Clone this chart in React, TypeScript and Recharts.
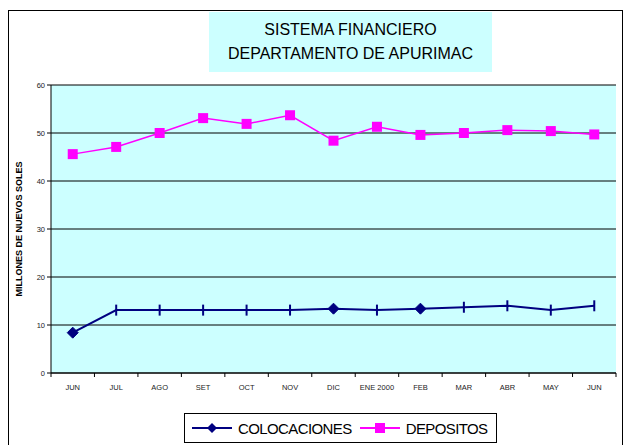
import { LineChart, Line, XAxis, YAxis, CartesianGrid } from 'recharts';

const months = ['JUN', 'JUL', 'AGO', 'SET', 'OCT', 'NOV', 'DIC', 'ENE 2000', 'FEB', 'MAR', 'ABR', 'MAY', 'JUN'];
const colocaciones = [8.4, 13.1, 13.1, 13.1, 13.1, 13.1, 13.4, 13.1, 13.4, 13.7, 14.0, 13.1, 14.0];
const depositos = [45.6, 47.1, 50.0, 53.1, 51.9, 53.7, 48.4, 51.3, 49.6, 50.0, 50.6, 50.4, 49.7];
// marker used at each COLOCACIONES point in the original
const colocMarkers = ['diamond', 'dash', 'dash', 'dash', 'dash', 'dash', 'diamond', 'dash', 'diamond', 'dash', 'dash', 'dash', 'dash'];
const yTicks = [0, 10, 20, 30, 40, 50, 60];

const data = months.map((m, i) => ({
  key: `${m}-${i}`,
  month: m,
  colocaciones: colocaciones[i],
  depositos: depositos[i],
}));

const FONT = '"Liberation Sans", Arial, sans-serif';
const NAVY = '#000080';
const PINK = '#FF00FF';
const W = 626;
const H = 445;
const M = { top: 85, right: 10, bottom: 52, left: 0 };
const Y_W = 51;
const BAND = (W - M.left - M.right - Y_W) / months.length;

const ColocDot = (props: any) => {
  const { cx, cy, index } = props;
  if (cx == null || cy == null) return null;
  if (colocMarkers[index] === 'diamond') {
    return (
      <path
        d={`M${cx},${cy - 5.5} L${cx + 5.5},${cy} L${cx},${cy + 5.5} L${cx - 5.5},${cy} Z`}
        fill={NAVY}
        stroke={NAVY}
      />
    );
  }
  return <line x1={cx} x2={cx} y1={cy - 5.5} y2={cy + 5.5} stroke={NAVY} strokeWidth={2} />;
};

const DepoDot = (props: any) => {
  const { cx, cy } = props;
  if (cx == null || cy == null) return null;
  return <rect x={cx - 5} y={cy - 5} width={10} height={10} fill={PINK} />;
};

const MonthTick = (props: any) => {
  const { x, y, index } = props;
  const axisY = y - 12;
  const last = index === months.length - 1;
  return (
    <g>
      <line x1={x - BAND / 2} x2={x - BAND / 2} y1={axisY} y2={axisY + 4} stroke="#000" />
      {last && <line x1={x + BAND / 2} x2={x + BAND / 2} y1={axisY} y2={axisY + 4} stroke="#000" />}
      <text x={x} y={y} dy="0.71em" textAnchor="middle" fontSize={7.5} fill="#222" fontFamily={FONT}>
        {months[index]}
      </text>
    </g>
  );
};

export default function App() {
  return (
    <div style={{ position: 'absolute', left: 0, top: 0, width: W, height: H, background: '#fff', fontFamily: FONT }}>
      <div
        style={{
          position: 'absolute',
          left: 8,
          top: 10,
          width: 615,
          height: 440,
          border: '1px solid #000',
          boxSizing: 'border-box',
        }}
      />
      <div
        style={{
          position: 'absolute',
          left: 209,
          top: 12,
          width: 283,
          height: 60,
          background: '#CCFFFF',
          textAlign: 'center',
          fontSize: 16,
          lineHeight: '24px',
          paddingTop: 6,
          boxSizing: 'border-box',
          color: '#000',
        }}
      >
        SISTEMA FINANCIERO
        <br />
        DEPARTAMENTO DE APURIMAC
      </div>
      <div style={{ position: 'absolute', left: 0, top: 0 }}>
        <LineChart width={W} height={H} data={data} margin={M}>
          <CartesianGrid vertical={false} stroke="#000" fill="#CCFFFF" fillOpacity={1} />
          <XAxis
            dataKey="key"
            tick={<MonthTick />}
            tickLine={false}
            tickSize={4}
            tickMargin={8}
            axisLine={{ stroke: '#000' }}
            interval={0}
            height={20}
            padding={{ left: BAND / 2, right: BAND / 2 }}
          />
          <YAxis
            domain={[0, 60]}
            ticks={yTicks}
            interval={0}
            width={Y_W}
            tickSize={4}
            tickMargin={2}
            tickLine={{ stroke: '#000' }}
            axisLine={{ stroke: '#000' }}
            tick={{ fontSize: 7.5, fill: '#222', fontFamily: FONT }}
            label={{
              value: 'MILLONES DE NUEVOS SOLES',
              angle: -90,
              position: 'insideLeft',
              offset: 19,
              style: { fontSize: 9, fontWeight: 'bold', fill: '#000', fontFamily: FONT, textAnchor: 'middle' },
            }}
          />
          <YAxis
            yAxisId="right"
            orientation="right"
            domain={[0, 60]}
            width={0}
            tick={false}
            tickLine={false}
            axisLine={{ stroke: '#808080', strokeWidth: 2 }}
          />
          <Line
            dataKey="colocaciones"
            stroke={NAVY}
            strokeWidth={2}
            dot={<ColocDot />}
            activeDot={false}
            isAnimationActive={false}
          />
          <Line
            dataKey="depositos"
            stroke={PINK}
            strokeWidth={1.5}
            dot={<DepoDot />}
            activeDot={false}
            isAnimationActive={false}
          />
        </LineChart>
      </div>
      <div
        style={{
          position: 'absolute',
          left: 184,
          top: 413,
          width: 313,
          height: 30,
          border: '1px solid #000',
          boxSizing: 'border-box',
          display: 'flex',
          alignItems: 'center',
          fontSize: 15,
          color: '#000',
          paddingLeft: 5,
        }}
      >
        <svg width={44} height={14}>
          <line x1={2} x2={42} y1={7} y2={7} stroke={NAVY} strokeWidth={2} />
          <path d="M22,2 L27,7 L22,12 L17,7 Z" fill={NAVY} />
        </svg>
        <span style={{ marginLeft: 4, letterSpacing: -0.6 }}>COLOCACIONES</span>
        <svg width={44} height={14} style={{ marginLeft: 6 }}>
          <line x1={2} x2={42} y1={7} y2={7} stroke={PINK} strokeWidth={2} />
          <rect x={17} y={2} width={10} height={10} fill={PINK} />
        </svg>
        <span style={{ marginLeft: 4, letterSpacing: -0.6 }}>DEPOSITOS</span>
      </div>
    </div>
  );
}
